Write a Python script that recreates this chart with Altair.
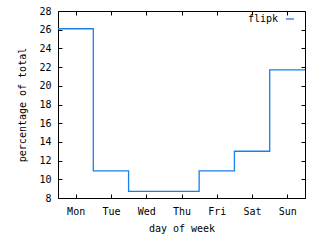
import json
import altair as alt
import pandas as pd

days = ["Mon", "Tue", "Wed", "Thu", "Fri", "Sat", "Sun"]
values = [26.1, 10.9, 8.7, 8.7, 10.9, 13.0, 21.7]
series_name = "flipk"
y_ticks = list(range(8, 29, 2))
x_ticks = list(range(len(days)))

rows = []
k = 0
for i, v in enumerate(values):
    rows.append({"x": i - 0.5, "y": v, "s": series_name, "o": k}); k += 1
    rows.append({"x": i + 0.5, "y": v, "s": series_name, "o": k}); k += 1
df = pd.DataFrame(rows)

FONT = "DejaVu Sans Mono"
W, H = 247, 187
LINE_COLOR = "#1a7fe8"

xscale = alt.Scale(domain=[-0.5, len(days) - 0.5], nice=False, zero=False)
yscale = alt.Scale(domain=[8, 28], nice=False, zero=False)
label_expr = json.dumps(days) + "[datum.value]"

base = alt.Chart(df)

main = base.mark_line(strokeWidth=1.3, clip=True).encode(
    x=alt.X("x:Q", scale=xscale, axis=alt.Axis(
        orient="bottom", values=x_ticks, labelExpr=label_expr, ticks=False, tickSize=0,
        grid=False, domain=True, labelPadding=8, title="day of week", titlePadding=7)),
    y=alt.Y("y:Q", scale=yscale, axis=alt.Axis(
        orient="left", values=y_ticks, ticks=False, tickSize=0, grid=False, domain=True,
        labelPadding=7, title="percentage of total", titlePadding=11)),
    order="o:Q",
    color=alt.Color("s:N", scale=alt.Scale(domain=[series_name], range=[LINE_COLOR]),
                    legend=alt.Legend(orient="none", legendX=227, legendY=3, title=None,
                                      symbolType="stroke", symbolSize=64, symbolStrokeWidth=1.3,
                                      labelAlign="right", labelOffset={"expr": "-17"}, padding=0,
                                      labelFont=FONT, labelFontSize=10, labelColor="black")),
)

frame_ticks = base.mark_line(opacity=0).encode(
    x=alt.X("x:Q", scale=xscale, axis=alt.Axis(
        orient="bottom", offset=-H, values=x_ticks, labels=False, tickSize=4, grid=False,
        domain=True, title=None)),
    y=alt.Y("y:Q", scale=yscale, axis=alt.Axis(
        orient="left", offset=-W, values=y_ticks, labels=False, tickSize=4, grid=False,
        domain=True, title=None)),
    order="o:Q",
)

inner_ticks = base.mark_line(opacity=0).encode(
    x=alt.X("x:Q", scale=xscale, axis=alt.Axis(
        orient="top", offset=-H, values=x_ticks, labels=False, tickSize=4, grid=False,
        domain=False, title=None)),
    y=alt.Y("y:Q", scale=yscale, axis=alt.Axis(
        orient="right", offset=-W, values=y_ticks, labels=False, tickSize=4, grid=False,
        domain=False, title=None)),
    order="o:Q",
)

chart = alt.layer(main, frame_ticks, inner_ticks).resolve_scale(
    x="shared", y="shared"
).resolve_axis(
    x="independent", y="independent"
).properties(
    width=W, height=H,
    autosize=alt.AutoSizeParams(type="none"),
    padding={"left": 58, "top": 11, "right": 15, "bottom": 42},
    background="white",
).configure_view(
    stroke=None
).configure_axis(
    labelFont=FONT, labelFontSize=10, labelColor="black",
    titleFont=FONT, titleFontSize=10, titleFontWeight="normal", titleColor="black",
    domainColor="black", tickColor="black", domainWidth=1, tickWidth=1,
)

chart.save("out.html", embed_options={"renderer": "svg", "actions": False})
